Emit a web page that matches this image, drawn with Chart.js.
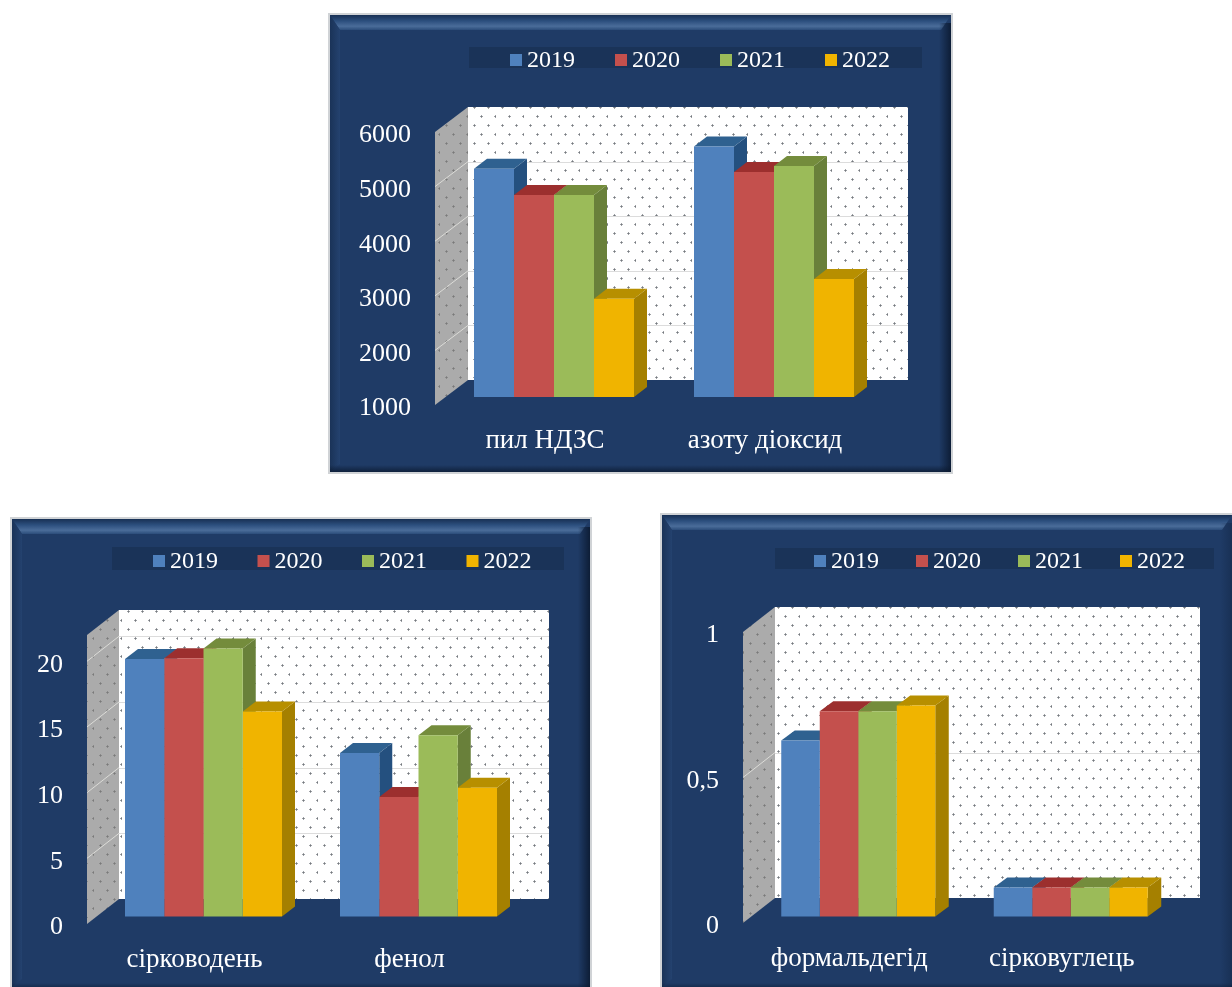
<!DOCTYPE html>
<html>
<head>
<meta charset="utf-8">
<script src="https://cdn.jsdelivr.net/npm/chart.js@4"></script>
<style>
  html, body { margin: 0; padding: 0; background: #fff; overflow: hidden; }
  canvas { position: absolute; filter: blur(0.45px); }
</style>
</head>
<body>
<canvas id="chartA"></canvas>
<canvas id="chartB"></canvas>
<canvas id="chartC"></canvas>
<script>
const years = ["2019", "2020", "2021", "2022"];

const categoriesA = ["пил НДЗС", "азоту діоксид"];
const a2019 = [5180, 5590];
const a2020 = [4700, 5120];
const a2021 = [4700, 5230];
const a2022 = [2800, 3160];
const ticksA = [1000, 2000, 3000, 4000, 5000, 6000];

const categoriesB = ["сірководень", "фенол"];
const b2019 = [19.6, 12.45];
const b2020 = [19.65, 9.1];
const b2021 = [20.4, 13.8];
const b2022 = [15.6, 9.8];
const ticksB = [0, 5, 10, 15, 20];

const categoriesC = ["формальдегід", "сірковуглець"];
const c2019 = [0.605, 0.1];
const c2020 = [0.705, 0.1];
const c2021 = [0.705, 0.1];
const c2022 = [0.725, 0.1];
const ticksC = [0, 0.5, 1];

const fronts = ["#4f81bd", "#c4504d", "#9bbb59", "#f0b400"];
const sides = ["#24507f", "#8c2c2a", "#69803a", "#a58000"];
const tops = ["#2f6190", "#9c2f2e", "#748c3c", "#b78f00"];

const serif = "'Liberation Serif', 'Times New Roman', serif";

function dotPattern(bg, dot, alpha) {
    let c = document.createElement("canvas");
    c.width = 28;
    c.height = 18;
    let g = c.getContext("2d");
    g.fillStyle = bg;
    g.fillRect(0, 0, 28, 18);
    g.globalAlpha = alpha;
    g.fillStyle = dot;
    for (const [x, y] of [[6, 4], [20, 4], [13, 13], [27, 13]]) {
        g.fillRect(x, y - 1, 1, 3);
        g.fillRect(x - 1, y, 3, 1);
    }
    return c;
}

function drawPanel(ctx, p) {
    const w = p.w, h = p.h, b = 2;
    const inR = p.cutRight ? w : w - b;
    const inB = p.cutBottom ? h : h - b;
    ctx.fillStyle = "#d0d3d6";
    ctx.fillRect(0, 0, w, h);
    ctx.fillStyle = "#1f3b66";
    ctx.fillRect(b, b, inR - b, inB - b);

    // bevel, top edge
    let g = ctx.createLinearGradient(0, b, 0, b + 15);
    g.addColorStop(0, "#183054");
    g.addColorStop(0.4, "#2c4f7e");
    g.addColorStop(0.75, "#4a6c99");
    g.addColorStop(1, "#2b4c7a");
    ctx.fillStyle = g;
    ctx.beginPath();
    ctx.moveTo(b, b);
    ctx.lineTo(inR, b);
    ctx.lineTo(inR - 10, b + 15);
    ctx.lineTo(b + 10, b + 15);
    ctx.closePath();
    ctx.fill();

    // bevel, left edge
    g = ctx.createLinearGradient(b, 0, b + 10, 0);
    g.addColorStop(0, "#1a3358");
    g.addColorStop(1, "#24426f");
    ctx.fillStyle = g;
    ctx.beginPath();
    ctx.moveTo(b, b);
    ctx.lineTo(b + 10, b + 15);
    ctx.lineTo(b + 10, inB - 8);
    ctx.lineTo(b, inB);
    ctx.closePath();
    ctx.fill();

    // bevel, right edge
    g = ctx.createLinearGradient(inR - 12, 0, inR, 0);
    g.addColorStop(0, "rgba(10,24,46,0)");
    g.addColorStop(1, p.cutRight ? "rgba(10,24,46,0.3)" : "rgba(10,24,46,0.85)");
    ctx.fillStyle = g;
    ctx.fillRect(inR - 12, b + 8, 12, inB - b - 8);

    // bevel, bottom edge
    const bh = p.cutBottom ? 4 : 7;
    g = ctx.createLinearGradient(0, inB - bh, 0, inB);
    g.addColorStop(0, "rgba(10,24,46,0)");
    g.addColorStop(1, p.cutBottom ? "rgba(10,24,46,0.4)" : "rgba(10,24,46,0.75)");
    ctx.fillStyle = g;
    ctx.fillRect(b, inB - bh, inR - b, bh);
}

// panel backgrounds, legend strip, walls and the 3D faces of the bars
const scene3d = {
    id: "scene3d",
    beforeDraw(chart) {
        const p = chart.options.plugins.scene3d;
        const ctx = chart.ctx;
        ctx.save();
        drawPanel(ctx, p);

        ctx.fillStyle = "#1a3358";
        ctx.fillRect(p.stripX - p.left, p.stripY - p.top, p.stripW, p.stripH);
        ctx.textBaseline = "middle";
        ctx.textAlign = "left";
        ctx.font = "24px " + serif;
        chart.data.datasets.forEach((ds, i) => {
            const x = p.legendX - p.left + i * p.legendStep;
            const midY = p.stripY - p.top + p.stripH / 2 + 2.5;
            ctx.fillStyle = ds.backgroundColor;
            ctx.fillRect(x, midY - 6, 12, 12);
            ctx.fillStyle = "#fff";
            ctx.fillText(ds.label, x + 17, midY + 1);
        });
        ctx.restore();
    },
    beforeDatasetsDraw(chart) {
        const p = chart.options.plugins.scene3d;
        const ctx = chart.ctx;
        const area = chart.chartArea;
        const yScale = chart.scales.y;
        const dx = p.wallDx, dy = p.wallDy;

        ctx.save();
        // back wall
        ctx.fillStyle = ctx.createPattern(dotPattern("#ffffff", "#5b6068", 0.6), "repeat");
        ctx.fillRect(area.left + dx, area.top + dy, area.width, area.height);
        // side wall
        ctx.fillStyle = ctx.createPattern(dotPattern("#ababab", "#6a6a6a", 0.5), "repeat");
        ctx.beginPath();
        ctx.moveTo(area.left, area.top);
        ctx.lineTo(area.left + dx, area.top + dy);
        ctx.lineTo(area.left + dx, area.bottom + dy);
        ctx.lineTo(area.left, area.bottom);
        ctx.closePath();
        ctx.fill();

        // grid lines
        ctx.lineWidth = 1;
        for (const t of yScale.ticks) {
            const y = yScale.getPixelForValue(t.value);
            if (y >= area.bottom - 1 || y <= area.top + 1) continue;
            ctx.strokeStyle = "#dcdcdc";
            ctx.beginPath();
            ctx.moveTo(area.left + dx, Math.round(y + dy) + 0.5);
            ctx.lineTo(area.right + dx, Math.round(y + dy) + 0.5);
            ctx.stroke();
            ctx.strokeStyle = "#dcdcd8";
            ctx.beginPath();
            ctx.moveTo(area.left, y);
            ctx.lineTo(area.left + dx, y + dy);
            ctx.stroke();
        }

        // the bars stand a little behind the front plane of the axis
        ctx.translate(p.barInsetX, p.barInsetY);
        const nCats = chart.data.labels.length;
        for (let c = 0; c < nCats; c++) {
            chart.data.datasets.forEach((ds, i) => {
                const bar = chart.getDatasetMeta(i).data[c];
                const l = bar.x - bar.width / 2, r = bar.x + bar.width / 2;
                const t = bar.y, bt = bar.base;
                ctx.fillStyle = sides[i];
                ctx.beginPath();
                ctx.moveTo(r, t);
                ctx.lineTo(r + p.barDx, t + p.barDy);
                ctx.lineTo(r + p.barDx, bt + p.barDy);
                ctx.lineTo(r, bt);
                ctx.closePath();
                ctx.fill();
                ctx.fillStyle = tops[i];
                ctx.beginPath();
                ctx.moveTo(l, t);
                ctx.lineTo(l + p.barDx, t + p.barDy);
                ctx.lineTo(r + p.barDx, t + p.barDy);
                ctx.lineTo(r, t);
                ctx.closePath();
                ctx.fill();
            });
        }
    },
    afterDatasetsDraw(chart) {
        chart.ctx.restore();
    }
};

function makeChart(canvasId, panel, labels, seriesList, yTicks) {
    const el = document.getElementById(canvasId);
    el.style.left = panel.left + "px";
    el.style.top = panel.top + "px";
    el.width = panel.w;
    el.height = panel.h;
    const areaLeft = panel.axisLeft - panel.left;
    const areaBottom = panel.axisBottom - panel.top;

    return new Chart(el.getContext("2d"), {
        type: "bar",
        plugins: [scene3d],
        data: {
            labels: labels,
            datasets: seriesList.map((values, i) => ({
                label: years[i],
                data: values,
                base: yTicks[0],
                backgroundColor: fronts[i],
                borderWidth: 0,
                clip: false,
                categoryPercentage: panel.groupShare,
                barPercentage: 1
            }))
        },
        options: {
            responsive: false,
            animation: false,
            devicePixelRatio: 1,
            layout: {
                padding: {
                    left: 0,
                    top: panel.axisTop - panel.top,
                    right: panel.w - (panel.axisRight - panel.left),
                    bottom: 0
                }
            },
            plugins: {
                legend: { display: false },
                tooltip: { enabled: false },
                scene3d: panel
            },
            scales: {
                x: {
                    grid: { display: false, drawTicks: false },
                    border: { display: false },
                    ticks: {
                        color: "#fff",
                        font: { family: serif, size: 27 },
                        padding: panel.xLabelPad,
                        maxRotation: 0,
                        autoSkip: false
                    },
                    afterFit: s => { s.height = panel.h - areaBottom; }
                },
                y: {
                    min: yTicks[0],
                    max: panel.yMax,
                    grid: { display: false, drawTicks: false },
                    border: { display: false },
                    afterBuildTicks: s => { s.ticks = yTicks.map(v => ({ value: v })); },
                    ticks: {
                        color: "#fff",
                        // empty first line pushes the number a little below its gridline
                        font: { family: serif, size: 26, lineHeight: "7px" },
                        padding: 24,
                        autoSkip: false,
                        callback: v => ["", String(v).replace(".", ",")]
                    },
                    afterFit: s => { s.width = areaLeft; }
                }
            }
        }
    });
}

makeChart("chartA", {
    left: 328, top: 13, w: 625, h: 461,
    axisLeft: 435, axisRight: 875, axisTop: 132, axisBottom: 405,
    yMax: 6000, groupShare: 160 / 220, xLabelPad: 20,
    wallDx: 33, wallDy: -25, barInsetX: 9, barInsetY: -8, barDx: 13, barDy: -10,
    stripX: 469, stripY: 47, stripW: 453, stripH: 21,
    legendX: 510, legendStep: 105
}, categoriesA, [a2019, a2020, a2021, a2022], ticksA);

makeChart("chartB", {
    left: 10, top: 517, w: 582, h: 470, cutBottom: true,
    axisLeft: 87, axisRight: 517, axisTop: 635, axisBottom: 924,
    yMax: 22, groupShare: 157 / 215, xLabelPad: 20,
    wallDx: 32, wallDy: -25, barInsetX: 9, barInsetY: -7.5, barDx: 13, barDy: -10,
    stripX: 112, stripY: 547, stripW: 452, stripH: 23,
    legendX: 153, legendStep: 104.5
}, categoriesB, [b2019, b2020, b2021, b2022], ticksB);

makeChart("chartC", {
    left: 660, top: 513, w: 572, h: 474, cutBottom: true, cutRight: true,
    axisLeft: 743, axisRight: 1168, axisTop: 632, axisBottom: 923,
    yMax: 1, groupShare: 154 / 212.5, xLabelPad: 20,
    wallDx: 32, wallDy: -25, barInsetX: 9, barInsetY: -6.5, barDx: 13.5, barDy: -10,
    stripX: 775, stripY: 548, stripW: 439, stripH: 21,
    legendX: 814, legendStep: 102
}, categoriesC, [c2019, c2020, c2021, c2022], ticksC);
</script>
</body>
</html>
